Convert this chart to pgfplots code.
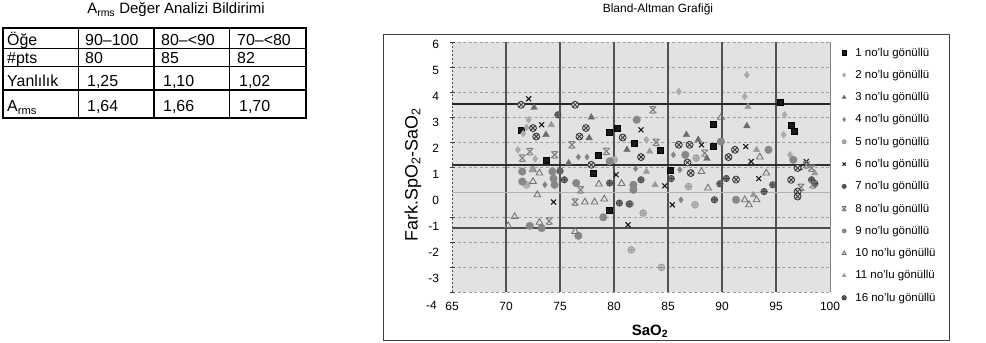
\documentclass[border=0pt]{standalone}
\usepackage{pgfplots}
\pgfplotsset{compat=1.18}
\usepackage{fontspec}
\setmainfont{Liberation Sans}
\usetikzlibrary{plotmarks}
\definecolor{bgc}{RGB}{226,226,226}
\pgfdeclareplotmark{xbar}{%
 \pgfpathmoveto{\pgfqpoint{-\pgfplotmarksize}{\pgfplotmarksize}}%
 \pgfpathlineto{\pgfqpoint{\pgfplotmarksize}{-\pgfplotmarksize}}%
 \pgfpathmoveto{\pgfqpoint{-\pgfplotmarksize}{-\pgfplotmarksize}}%
 \pgfpathlineto{\pgfqpoint{\pgfplotmarksize}{\pgfplotmarksize}}%
 \pgfpathmoveto{\pgfqpoint{-0.6\pgfplotmarksize}{\pgfplotmarksize}}%
 \pgfpathlineto{\pgfqpoint{0.6\pgfplotmarksize}{\pgfplotmarksize}}%
 \pgfpathmoveto{\pgfqpoint{-0.6\pgfplotmarksize}{-\pgfplotmarksize}}%
 \pgfpathlineto{\pgfqpoint{0.6\pgfplotmarksize}{-\pgfplotmarksize}}%
 \pgfusepathqstroke}
\pgfplotsset{
 msA/.style={only marks, mark=square*, mark size=3bp, draw=black, fill=black!90},
 msB/.style={only marks, mark=diamond*, mark size=3.5bp, color=black!33},
 msC/.style={only marks, mark=triangle*, mark size=3.8bp, color=black!58},
 msD/.style={only marks, mark=diamond*, mark size=3bp, color=black!48},
 msE/.style={only marks, mark=oplus*, mark size=3.5bp, draw=black!45, fill=black!28},
 msF/.style={only marks, mark=x, mark size=3.5bp, draw=black!90, line width=1.1bp},
 msG/.style={only marks, mark=oplus*, mark size=3.3bp, draw=black!80, fill=black!55},
 msH/.style={only marks, mark=xbar, mark size=3.3bp, draw=black!52, line width=1bp},
 msI/.style={only marks, mark=*, mark size=3.8bp, color=black!47},
 msJ/.style={only marks, mark=triangle, mark size=3.8bp, draw=black!55, line width=0.9bp},
 msK/.style={only marks, mark=triangle*, mark size=3.6bp, color=black!40},
 msL/.style={only marks, mark=otimes*, mark size=3.5bp, draw=black!80, fill=black!18, line width=0.8bp},
}
\begin{document}
\begin{tikzpicture}[x=1bp,y=1bp]
\path[use as bounding box] (0,0) rectangle (986,342);
% ---------- left table ----------
\node[font=\fontsize{15}{17}\selectfont] at (176,332) {A\textsubscript{rms} Değer Analizi Bildirimi};
\draw[line width=1.2bp] (78.3,313.7) -- (78.3,223.7) (154,313.7) -- (154,223.7) (229.3,313.7) -- (229.3,223.7);
\draw[line width=1.2bp] (3,293.7) -- (306,293.7) (3,275.3) -- (306,275.3) (3,252) -- (306,252);
\draw[line width=1.8bp] (3,313.7) rectangle (306,223.7);
\begin{scope}[every node/.style={anchor=base west, inner sep=0pt, font=\fontsize{16}{19}\selectfont}]
\node at (7,297) {Öğe}; \node at (85,297) {90–100}; \node at (161,297) {80–<90}; \node at (237,297) {70–<80};
\node at (7,278.7) {\#pts}; \node at (85,278.7) {80}; \node at (161,278.7) {85}; \node at (237,278.7) {82};
\node at (7,256) {Yanlılık}; \node at (87,256) {1,25}; \node at (163,256) {1,10}; \node at (239,256) {1,02};
\node at (7,230.3) {A\textsubscript{rms}}; \node at (87,230.3) {1,64}; \node at (163,230.3) {1,66}; \node at (239,230.3) {1,70};
\end{scope}
% ---------- right chart ----------
\node[font=\fontsize{12}{14}\selectfont] at (658,333) {Bland-Altman Grafiği};
\draw[black!75, line width=1bp] (383.3,307.7) rectangle (949,2);
\node[rotate=90, font=\fontsize{18}{20}\selectfont] at (413,167.5) {Fark.SpO\textsubscript{2}-SaO\textsubscript{2}};
\node[font=\bfseries\fontsize{15}{17}\selectfont] at (650,11) {SaO\textsubscript{2}};
\node[anchor=east, font=\fontsize{12}{14}\selectfont, inner sep=0pt] at (437,37) {-4};
\begin{scope}[shift={(452,49.7)}]
\begin{axis}[
 anchor=south west,
 scale only axis, width=378bp, height=250bp,
 xmin=65, xmax=100, ymin=-4, ymax=6, clip=false,
 axis background/.style={fill=bgc},
 axis x line*=bottom, axis y line*=left,
 x axis line style={draw=none},
 y axis line style={black!70, dash pattern=on 2.5bp off 1.5bp, line width=0.9bp},
 /pgf/number format/assume math mode=true,
 tick label style={font=\fontsize{12}{14}\selectfont},
 xtick={65,70,...,100},
 xticklabels={65,70,75,80,85,90,95,\raisebox{-4bp}{100}},
 xticklabel style={yshift=-4bp},
 xtick style={draw=none},
 extra x ticks={70,75,80,85,90,95},
 extra x tick labels={},
 extra x tick style={grid=major, major grid style={black!68, line width=1.1bp, solid}, tick style={draw=none}},
 ytick={-4,-3,-2,-1,1,2,3,4,5,6},
 yticklabels={},
 ymajorgrids,
 major grid style={dash pattern=on 3bp off 2.5bp, black!38, line width=0.8bp},
 ytick style={black!75, line width=0.8bp},
 major tick length=5bp, tick align=center,
 extra y ticks={5.93,4.89,3.85,2.80,1.76,0.71,-0.33,-1.38,-2.42,-3.46},
 extra y tick labels={6,5,4,3,2,1,0,-1,-2,-3},
 extra y tick style={grid=none, tick style={draw=none}, yticklabel style={xshift=-7bp}},
 legend style={at={(1.0317,0.986)}, anchor=north west, draw=none, fill=none,
   inner sep=0pt, outer sep=0pt, row sep=8.5bp, column sep=7bp,
   font=\fontsize{11.5}{13}\selectfont},
 legend cell align=left,
 legend image code/.code={\draw[mark repeat=2,mark phase=2,#1,mark size=2.2bp] plot coordinates {(0bp,0bp) (4bp,0bp) (8bp,0bp)};},
]
% reference lines
\addplot[forget plot, black!30, line width=0.9bp] coordinates {(65,0) (100,0)};
\addplot[forget plot, black!85, line width=1.7bp] coordinates {(65,3.52) (100,3.52)};
\addplot[forget plot, black!82, line width=1.7bp] coordinates {(65,1.09) (100,1.09)};
\addplot[forget plot, black!70, line width=1.4bp] coordinates {(65,-1.42) (100,-1.42)};
\draw[black!50, line width=0.9bp] (rel axis cs:1,0) -- (rel axis cs:1,1);
% series
\addplot[msA] coordinates {(71.4,2.5) (73.7,1.3) (79.6,2.39) (80.3,2.57) (78.5,1.5) (78.1,0.77) (79.6,-0.72) (81.9,1.95) (84.3,1.7) (85.2,0.9) (89.2,2.71) (89.2,1.83) (95.4,3.6) (96.4,2.7) (96.7,2.43)};
\addlegendentry{1 no'lu gönüllü}
\addplot[msB] coordinates {(72.1,2.9) (71.6,2.35) (71.1,1.7) (72.7,1.34) (83.0,2.1) (86.0,4.03) (92.3,4.7) (92.1,3.83) (95.8,3.1) (95.7,2.3) (96.3,1.5) (71.9,2.6)};
\addlegendentry{2 no'lu gönüllü}
\addplot[msC] coordinates {(72.6,3.39) (77.9,3.0) (73.7,2.3) (77.7,2.17) (75.8,1.17) (81.2,1.7) (86.7,2.3) (87.8,2.1) (88.6,1.35) (92.3,2.65)};
\addlegendentry{3 no'lu gönüllü}
\addplot[msD] coordinates {(77.5,1.41) (73.6,0.3) (76.7,1.41) (85.5,1.5) (86.1,0.9) (86.2,-0.3) (82.0,0.95)};
\addlegendentry{4 no'lu gönüllü}
\addplot[msE] coordinates {(71.9,0.3) (81.6,-2.3) (84.4,-3.0) (82.7,-0.83) (81.5,-0.46) (87.5,-0.5) (86.9,0.23) (87.6,1.37) (80.0,1.3)};
\addlegendentry{5 no'lu gönüllü}
\addplot[msF] coordinates {(72.1,3.74) (73.3,2.7) (80.2,0.7) (74.4,-0.39) (81.3,-1.3) (82.5,2.5) (84.7,0.26) (85.4,-0.5) (88.1,1.9) (92.2,1.83) (92.7,1.23) (93.4,0.55) (97.2,1.0) (97.8,1.23)};
\addlegendentry{6 no'lu gönüllü}
\addplot[msG] coordinates {(74.8,3.1) (75.4,0.5) (79.6,0.37) (80.5,-0.43) (81.4,-0.47) (82.5,0.5) (85.3,0.55) (89.8,0.34) (90.4,0.55) (89.3,-0.3) (94.7,0.3) (93.9,0.03) (98.3,0.5) (98.6,0.35) (75.0,0.85)};
\addlegendentry{7 no'lu gönüllü}
\addplot[msH] coordinates {(76.1,1.9) (72.2,1.63) (71.5,1.37) (74.5,1.5) (79.3,1.64) (76.9,0.1) (76.4,-0.39) (74.0,-1.15) (83.6,3.3) (83.9,2.0) (88.4,1.57) (97.8,1.1) (98.4,0.3) (98.3,0.97) (97.3,0.2)};
\addlegendentry{8 no'lu gönüllü}
\addplot[msI] coordinates {(79.6,1.24) (81.8,0.3) (71.5,0.43) (74.4,0.55) (74.5,0.3) (76.5,0.37) (72.2,-1.34) (73.3,-1.43) (76.7,-1.74) (79.0,-1.0) (81.8,0.1) (91.3,-0.3) (82.1,2.9) (89.9,2.03) (86.6,1.5) (94.3,1.7) (71.5,0.83) (74.3,0.83) (96.6,1.3)};
\addlegendentry{9 no'lu gönüllü}
\addplot[msJ] coordinates {(72.5,0.43) (73.1,0.77) (72.9,-0.1) (78.6,0.33) (77.3,-0.39) (78.2,-0.39) (79.1,-0.27) (70.8,-0.97) (70.2,-1.34) (73.1,-1.2) (76.4,-1.57) (88.1,0.83) (88.7,0.17) (94.1,0.77) (92.1,-0.3) (92.5,-0.5) (93.2,-0.3) (89.9,3.0) (93.5,1.41) (72.5,0.9) (80.7,0.35)};
\addlegendentry{10 no'lu gönüllü}
\addplot[msK] coordinates {(74.2,2.7) (83.0,0.83) (83.8,0.3) (92.9,-0.1) (83.3,1.64) (93.2,1.7) (98.6,0.77) (92.4,3.43) (72.4,0.9)};
\addlegendentry{11 no'lu gönüllü}
\addplot[msL] coordinates {(71.4,3.5) (76.4,3.5) (72.5,2.57) (72.8,2.23) (77.4,2.57) (76.8,2.23) (80.8,2.19) (77.9,1.1) (82.5,1.41) (86.0,1.9) (87.0,1.9) (86.8,1.19) (90.6,1.41) (91.2,1.7) (87.1,0.77) (91.3,0.51) (96.4,0.5) (97.0,0.03) (97.0,-0.17) (97.0,0.97)};
\addlegendentry{16 no'lu gönüllü}
\end{axis}
\end{scope}
\end{tikzpicture}
\end{document}
